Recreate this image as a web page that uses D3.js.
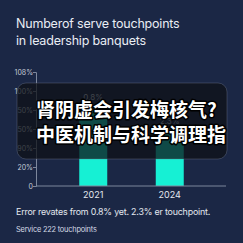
<!DOCTYPE html>
<html>
<head>
<meta charset="utf-8">
<script src="https://cdn.jsdelivr.net/npm/d3@7"></script>
<style>
  html, body { margin: 0; padding: 0; background: #1b2745; }
  svg { display: block; }
</style>
</head>
<body>
<svg id="chart"></svg>
<script>
var years = ["2021", "2024"];
var values = [86, 61];
var barLabels = ["0.8%", "2.3%"];
var tickValues = [0, 20, 40, 60, 80, 100, 120];
var tickLabels = ["0", "20%", "90%", "50%", "50%", "100%", "108%"];
var titleLines = ["Numberof serve touchpoints", "in leadership banquets"];
var overlayLines = ["肾阴虚会引发梅核气?", "中医机制与科学调理指"];

var W = 243, H = 243;
var svg = d3.select("#chart").attr("width", W).attr("height", H);

svg.append("rect").attr("width", W).attr("height", H).attr("fill", "#1b2745");

// title
svg.selectAll(".title")
  .data(titleLines)
  .enter().append("text")
  .attr("x", 16)
  .attr("y", function(d, i) { return 28 + i * 17; })
  .attr("fill", "#e9edf4")
  .style("font-family", "Inter, 'Noto Sans', sans-serif")
  .style("font-size", "12.5px")
  .style("letter-spacing", "-0.2px")
  .text(function(d) { return d; });

var y = d3.scaleLinear().domain([0, 120]).range([186, 72]);
var x = d3.scaleBand().domain(years).range([55, 208])
  .paddingInner(0.634).paddingOuter(0.317);

// y axis
var yAxis = d3.axisLeft(y)
  .tickValues(tickValues)
  .tickSize(3)
  .tickFormat(function(d, i) { return tickLabels[i]; });

var gy = svg.append("g").attr("transform", "translate(36,0)").call(yAxis);
gy.select(".domain").attr("stroke", "#7d879c");
gy.selectAll(".tick line").attr("stroke", "#7d879c");
gy.selectAll(".tick text")
  .attr("fill", "#c3cad7")
  .attr("x", -3)
  .style("font-family", "Inter, 'Noto Sans', sans-serif")
  .style("font-size", "7px");

// bars
svg.selectAll(".bar")
  .data(values)
  .enter().append("rect")
  .attr("x", function(d, i) { return x(years[i]); })
  .attr("y", function(d) { return y(d); })
  .attr("width", x.bandwidth())
  .attr("height", function(d) { return y(0) - y(d); })
  .attr("fill", "#16f0d4");

svg.selectAll(".bar-label")
  .data(values)
  .enter().append("text")
  .attr("x", function(d, i) { return x(years[i]) + x.bandwidth() / 2; })
  .attr("y", function(d) { return y(d) - 4; })
  .attr("text-anchor", "middle")
  .attr("fill", "#c9d0dc")
  .style("font-family", "Inter, 'Noto Sans', sans-serif")
  .style("font-size", "8px")
  .text(function(d, i) { return barLabels[i]; });

// x axis
var xAxis = d3.axisBottom(x).tickSize(0).tickPadding(6);
var gx = svg.append("g").attr("transform", "translate(0,186)").call(xAxis);
gx.select(".domain").attr("d", "M36,0H226").attr("stroke", "#7d879c");
gx.selectAll(".tick text")
  .attr("fill", "#e3e7ef")
  .style("font-family", "Inter, 'Noto Sans', sans-serif")
  .style("font-size", "9px");

// caption
svg.append("text")
  .attr("x", 16).attr("y", 215)
  .attr("fill", "#e3e7ef")
  .style("font-family", "Inter, 'Noto Sans', sans-serif")
  .style("font-size", "8.9px")
  .style("letter-spacing", "-0.2px")
  .text("Error revates from 0.8% yet. 2.3% er touchpoint.");

svg.append("text")
  .attr("x", 16).attr("y", 232)
  .attr("fill", "#d6dbe5")
  .style("font-family", "Inter, 'Noto Sans', sans-serif")
  .style("font-size", "7.4px")
  .style("letter-spacing", "-0.2px")
  .text("Service 222 touchpoints");

// overlay box with headline
svg.append("rect")
  .attr("x", 17).attr("y", 83)
  .attr("width", 210).attr("height", 76)
  .attr("rx", 9)
  .attr("fill", "rgba(14,16,22,0.74)")
  .attr("stroke", "rgba(120,130,150,0.35)")
  .attr("stroke-width", 1);

svg.selectAll(".headline")
  .data(overlayLines)
  .enter().append("text")
  .attr("x", 36)
  .attr("y", function(d, i) { return 117 + i * 25; })
  .attr("fill", "#ffffff")
  .attr("stroke", "#000000")
  .attr("stroke-width", 3)
  .attr("stroke-linejoin", "round")
  .style("paint-order", "stroke")
  .style("font-family", "'Noto Sans CJK SC', sans-serif")
  .style("font-weight", "bold")
  .style("font-size", "19px")
  .text(function(d) { return d; });
</script>
</body>
</html>
